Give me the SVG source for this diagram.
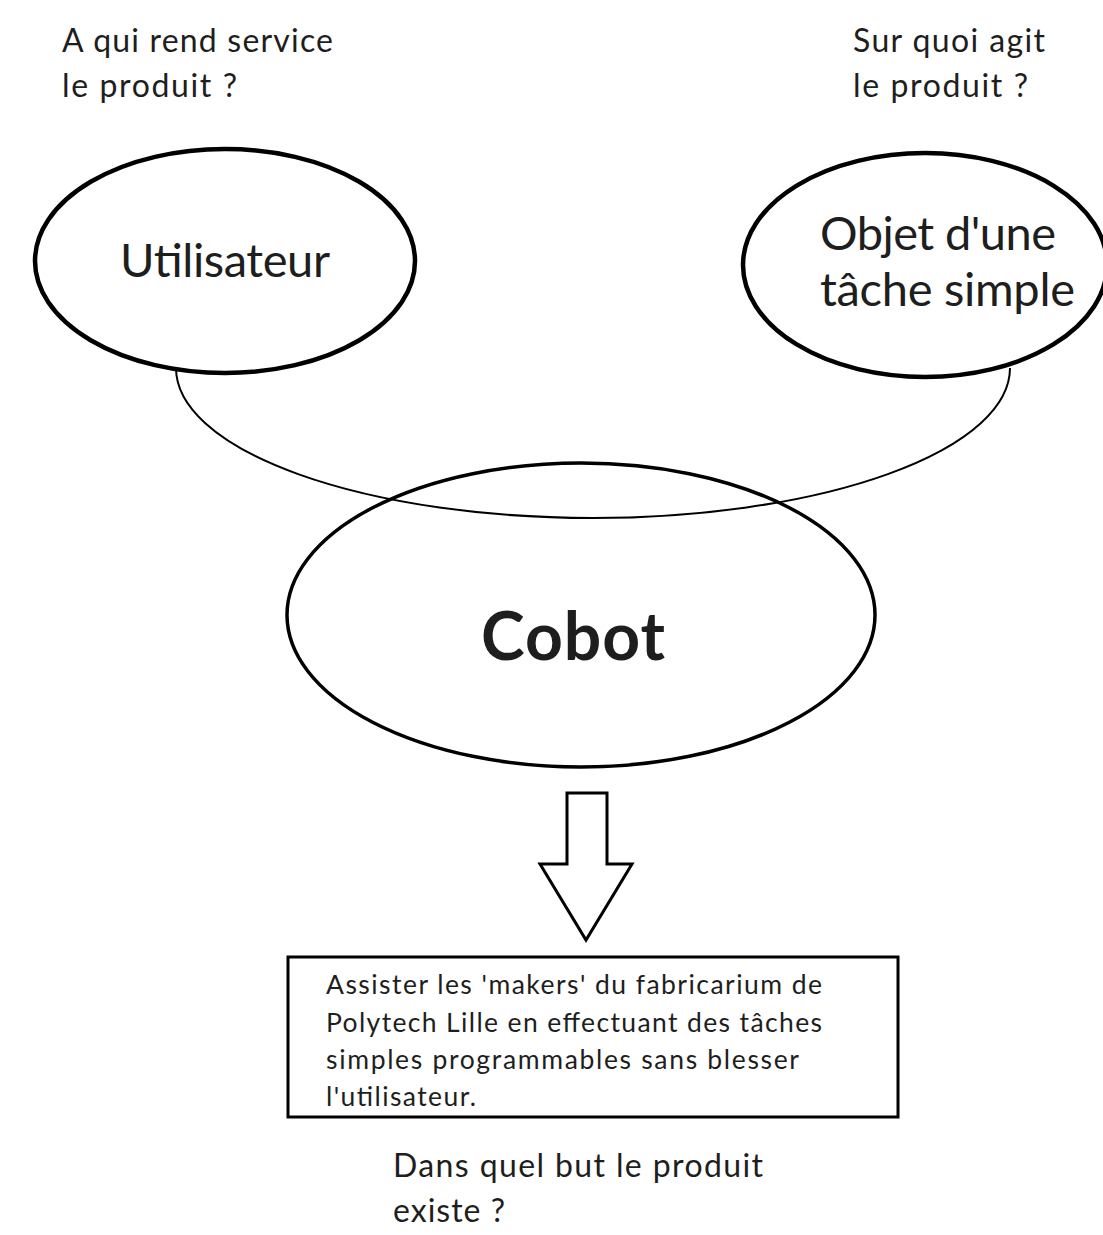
<svg xmlns="http://www.w3.org/2000/svg" width="1103" height="1235" viewBox="0 0 1103 1235">
<style>
.t{font-family:Lato,"Open Sans","Liberation Sans",sans-serif;fill:#1e1e1e}
.q{font-size:32px}
.big{font-size:47px}
.box{font-size:26.5px}
.el{fill:none;stroke:#000}
</style>
<rect width="1103" height="1235" fill="#fff"/>
<g id="connectors">
<path id="arc" d="M176,368 A417,150 0 0 0 1010,368" fill="none" stroke="#000" stroke-width="2"/>
<path id="arrow" d="M567,793 H607 V864 H632 L586,940 L540,864 H567 Z" fill="#fff" stroke="#000" stroke-width="3" stroke-linejoin="miter"/>
</g>
<g id="q-utilisateur">
<text class="t q" x="62" y="52" textLength="271">A qui rend service</text>
<text class="t q" x="62" y="97" textLength="175">le produit ?</text>
</g>
<g id="q-objet">
<text class="t q" x="853" y="52" textLength="192">Sur quoi agit</text>
<text class="t q" x="853" y="97" textLength="175">le produit ?</text>
</g>
<g id="utilisateur">
<ellipse class="el" cx="225" cy="261" rx="190" ry="112" stroke-width="4.5"/>
<text class="t big" x="120" y="277" textLength="210">Utilisateur</text>
</g>
<g id="objet">
<ellipse class="el" cx="925" cy="265" rx="182" ry="112" stroke-width="4.5"/>
<text class="t big" x="820" y="250" textLength="236">Objet d'une</text>
<text class="t big" x="820" y="306" textLength="255">tâche simple</text>
</g>
<g id="cobot">
<ellipse class="el" cx="581" cy="615" rx="294" ry="152" stroke-width="3.5"/>
<text class="t" x="481" y="660" font-size="66" font-weight="bold" textLength="184">Cobot</text>
</g>
<g id="fonction">
<rect x="288" y="957" width="610" height="160" fill="none" stroke="#000" stroke-width="3"/>
<text class="t box" x="326" y="994" textLength="496">Assister les 'makers' du fabricarium de</text>
<text class="t box" x="326" y="1032" textLength="496">Polytech Lille en effectuant des tâches</text>
<text class="t box" x="326" y="1069" textLength="473">simples programmables sans blesser</text>
<text class="t box" x="326" y="1106" textLength="150">l'utilisateur.</text>
</g>
<g id="q-but">
<text class="t q" x="393" y="1177" textLength="370">Dans quel but le produit</text>
<text class="t q" x="393" y="1222" textLength="112">existe ?</text>
</g>
</svg>
